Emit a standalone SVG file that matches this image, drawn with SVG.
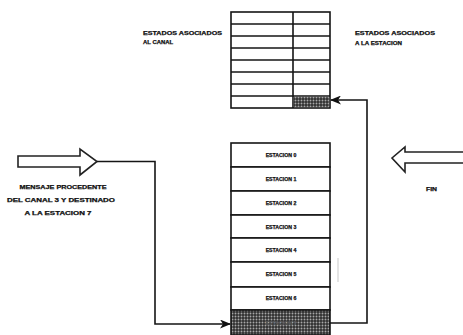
<svg xmlns="http://www.w3.org/2000/svg" width="463" height="335" viewBox="0 0 463 335">
<defs>
<pattern id="hatch" width="3" height="3" patternUnits="userSpaceOnUse">
<rect width="3" height="3" fill="#303030"/>
<circle cx="1.5" cy="1.5" r="0.95" fill="#a8a8a8"/>
</pattern>
<marker id="ah" markerWidth="11" markerHeight="9" refX="10" refY="4.5" orient="auto" markerUnits="userSpaceOnUse">
<path d="M0,0 L11,4.5 L0,9 L3,4.5 Z" fill="#111"/>
</marker>
</defs>
<style>
.ln{stroke:#151515;stroke-width:1.6;fill:none}
.cell{stroke:#151515;stroke-width:1.6;fill:#fff}
.t{font-family:"Liberation Sans",Arial,sans-serif;font-weight:bold;font-size:5.2px;fill:#111;stroke:#111;stroke-width:0.25}
.st{font-family:"Liberation Sans",Arial,sans-serif;font-weight:bold;font-size:5.2px;fill:#111;stroke:#111;stroke-width:0.25;text-anchor:middle}
.big{stroke:#222;stroke-width:1.6;fill:#fff}
</style>
<rect width="463" height="335" fill="#fff"/>

<g id="tabla-estados">
<rect class="cell" x="231" y="12" width="99" height="96"/>
<line class="ln" x1="293" y1="12" x2="293" y2="108"/>
<line class="ln" x1="231" y1="24" x2="330" y2="24"/>
<line class="ln" x1="231" y1="36" x2="330" y2="36"/>
<line class="ln" x1="231" y1="48" x2="330" y2="48"/>
<line class="ln" x1="231" y1="60" x2="330" y2="60"/>
<line class="ln" x1="231" y1="72" x2="330" y2="72"/>
<line class="ln" x1="231" y1="84" x2="330" y2="84"/>
<line class="ln" x1="231" y1="96" x2="330" y2="96"/>
<rect x="293.8" y="96.8" width="35.4" height="10.4" fill="url(#hatch)"/>
</g>

<g id="label-canal">
<text class="t" x="143" y="35" textLength="79" lengthAdjust="spacingAndGlyphs">ESTADOS ASOCIADOS</text>
<text class="t" x="143" y="44" textLength="30" lengthAdjust="spacingAndGlyphs">AL CANAL</text>
</g>
<g id="label-estacion">
<text class="t" x="355" y="35" textLength="80" lengthAdjust="spacingAndGlyphs">ESTADOS ASOCIADOS</text>
<text class="t" x="355" y="45" textLength="47" lengthAdjust="spacingAndGlyphs">A LA ESTACION</text>
</g>

<g id="estaciones">
<rect class="cell" x="231" y="143" width="99" height="24"/>
<text class="st" x="281" y="157">ESTACION 0</text>
<rect class="cell" x="231" y="167" width="99" height="24"/>
<text class="st" x="281" y="181">ESTACION 1</text>
<rect class="cell" x="231" y="191" width="99" height="24"/>
<text class="st" x="281" y="205">ESTACION 2</text>
<rect class="cell" x="231" y="215" width="99" height="23"/>
<text class="st" x="281" y="229">ESTACION 3</text>
<rect class="cell" x="231" y="238" width="99" height="24"/>
<text class="st" x="281" y="252">ESTACION 4</text>
<rect class="cell" x="231" y="262" width="99" height="25"/>
<text class="st" x="281" y="276">ESTACION 5</text>
<rect class="cell" x="231" y="287" width="99" height="23"/>
<text class="st" x="281" y="300">ESTACION 6</text>
<rect x="231" y="310" width="99" height="25" fill="url(#hatch)" stroke="#151515" stroke-width="1.6"/>
<text class="st" x="281" y="325" style="fill:#555;stroke:#555">ESTACION 7</text>
</g>

<g id="flecha-mensaje">
<path class="big" d="M18,156 L80,156 L80,149 L97,161.5 L80,175 L80,167 L18,167 Z"/>
<text class="st" x="63" y="189" textLength="87" lengthAdjust="spacingAndGlyphs">MENSAJE PROCEDENTE</text>
<text class="st" x="61" y="202" textLength="108" lengthAdjust="spacingAndGlyphs">DEL CANAL 3  Y DESTINADO</text>
<text class="st" x="58" y="215" textLength="67" lengthAdjust="spacingAndGlyphs">A LA ESTACION 7</text>
</g>

<g id="flecha-fin">
<path class="big" d="M463,152 L405,152 L405,147 L392,158 L405,172 L405,163 L463,163"/>
<text class="t" x="426" y="191" textLength="11" lengthAdjust="spacingAndGlyphs">FIN</text>
</g>

<g id="conectores">
<path class="ln" d="M97,161.5 L155,161.5 L155,324 L230,324" marker-end="url(#ah)"/>
<path class="ln" d="M330,323 L367,323 L367,100 L331,100" marker-end="url(#ah)"/>
</g>
<line x1="338" y1="258" x2="338" y2="282" stroke="#bbb" stroke-width="0.8"/>
</svg>
